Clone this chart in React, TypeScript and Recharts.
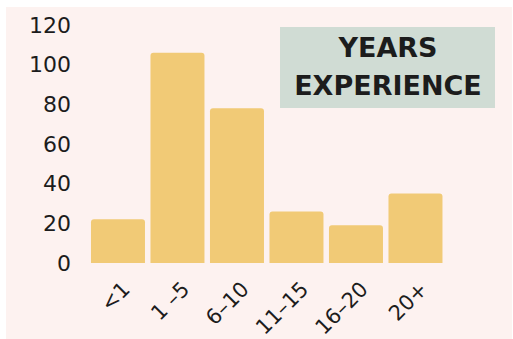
import { BarChart, Bar, XAxis, YAxis } from 'recharts';

const CATEGORIES = ['<1', '1 –5', '6–10', '11–15', '16–20', '20+'];
const COUNTS = [22, 106, 78, 26, 19, 35];
const Y_TICKS = [0, 20, 40, 60, 80, 100, 120];
const TITLE_LINES = ['YEARS', 'EXPERIENCE'];

const PANEL = '#fdf2f0';
const BAR = '#f1ca76';
const TITLE_BG = '#d0dcd4';
const INK = '#1c1c1c';
const FONT = '"DejaVu Sans", sans-serif';

const data = CATEGORIES.map((name, i) => ({ name, count: COUNTS[i] }));

export default function App() {
  return (
    <div style={{ position: 'absolute', left: 0, top: 0, width: 513, height: 339, background: '#fff' }}>
      <div style={{ position: 'absolute', left: 6, top: 7, width: 506, height: 332, background: PANEL }} />
      <div style={{ position: 'absolute', left: 0, top: 0 }}>
        <BarChart
          width={513}
          height={339}
          data={data}
          margin={{ top: 25, right: 68, bottom: 46, left: 0 }}
          barCategoryGap="5%"
        >
          <XAxis
            dataKey="name"
            height={30}
            axisLine={false}
            tickLine={false}
            interval={0}
            angle={-45}
            textAnchor="end"
            tickSize={0}
            tickMargin={17}
            dx={3}
            tick={{ fill: INK, fontSize: 21, fontFamily: FONT }}
          />
          <YAxis
            width={88}
            domain={[0, 120]}
            ticks={Y_TICKS}
            axisLine={false}
            tickLine={false}
            tickSize={0}
            tickMargin={17}
            tick={{ fill: INK, fontSize: 22, fontFamily: FONT }}
          />
          <Bar dataKey="count" fill={BAR} radius={[3, 3, 0, 0]} isAnimationActive={false} />
        </BarChart>
      </div>
      <svg style={{ position: 'absolute', left: 0, top: 0 }} width={513} height={339}>
        <rect x={280} y={27} width={215} height={81} fill={TITLE_BG} />
        {TITLE_LINES.map((line, i) => (
          <text
            key={line}
            x={388}
            y={57 + i * 38}
            textAnchor="middle"
            fontFamily={FONT}
            fontWeight="bold"
            fontSize={27}
            fill={INK}
          >
            {line}
          </text>
        ))}
      </svg>
    </div>
  );
}
